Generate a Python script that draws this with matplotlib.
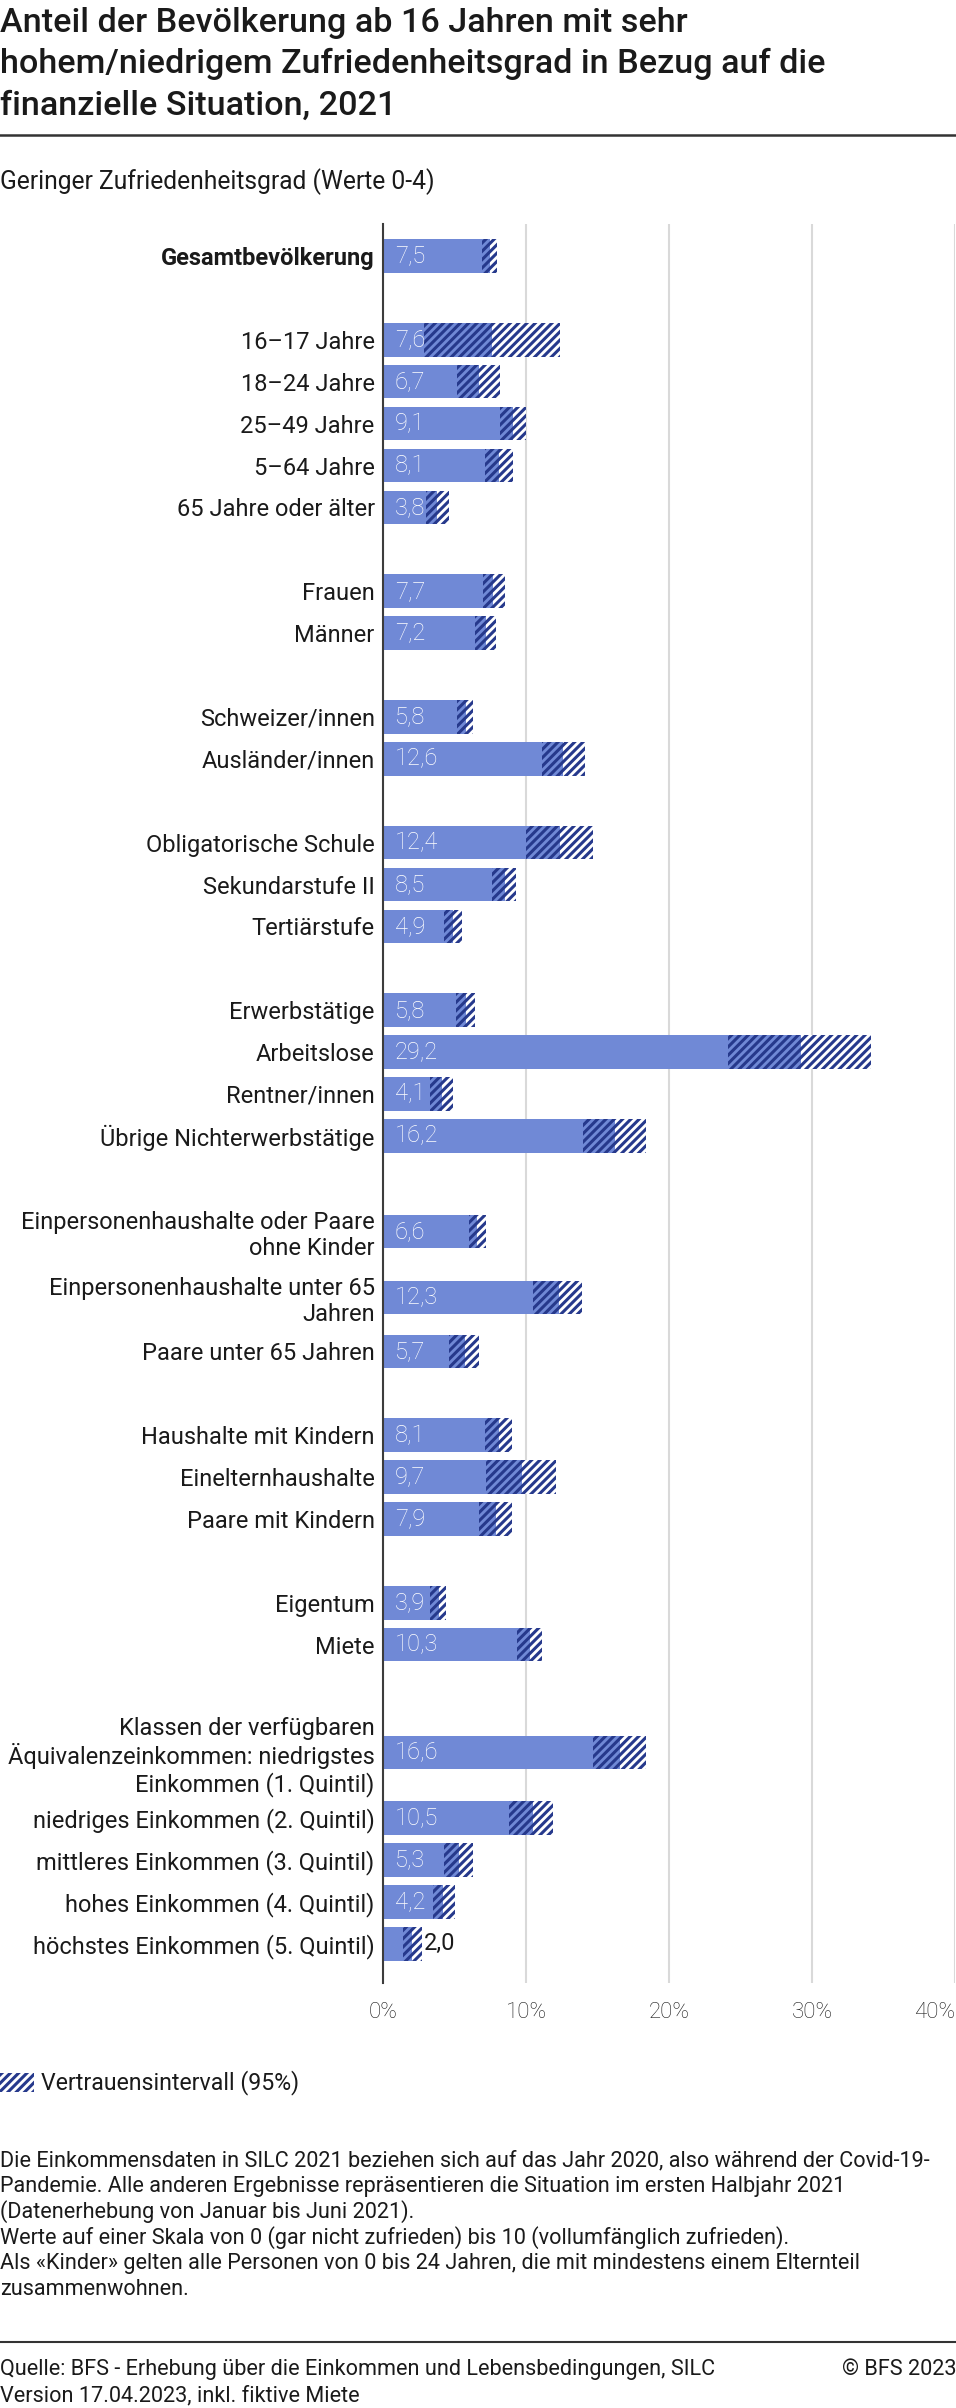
import numpy as np
import matplotlib
matplotlib.use('Agg')
import matplotlib.pyplot as plt
from matplotlib.lines import Line2D
from matplotlib.patches import Rectangle

plt.rcParams['font.family'] = ['Roboto', 'DejaVu Sans']
plt.rcParams['hatch.linewidth'] = 2.2

BLUE = '#7089d6'
NAVY = '#26398c'
TXT = '#1a1a1a'
HATCH = '////'
W, H = 956, 2408

# --- data -------------------------------------------------------------
categories = [
    'Gesamtbevölkerung',
    '16–17 Jahre', '18–24 Jahre', '25–49 Jahre', '5–64 Jahre', '65 Jahre oder älter',
    'Frauen', 'Männer',
    'Schweizer/innen', 'Ausländer/innen',
    'Obligatorische Schule', 'Sekundarstufe II', 'Tertiärstufe',
    'Erwerbstätige', 'Arbeitslose', 'Rentner/innen', 'Übrige Nichterwerbstätige',
    'Einpersonenhaushalte oder Paare\nohne Kinder', 'Einpersonenhaushalte unter 65\nJahren',
    'Paare unter 65 Jahren',
    'Haushalte mit Kindern', 'Einelternhaushalte', 'Paare mit Kindern',
    'Eigentum', 'Miete',
    'Klassen der verfügbaren\nÄquivalenzeinkommen: niedrigstes\nEinkommen (1. Quintil)',
    'niedriges Einkommen (2. Quintil)', 'mittleres Einkommen (3. Quintil)',
    'hohes Einkommen (4. Quintil)', 'höchstes Einkommen (5. Quintil)',
]
groups = [0, 1, 1, 1, 1, 1, 2, 2, 3, 3, 4, 4, 4, 5, 5, 5, 5,
          6, 6, 6, 7, 7, 7, 8, 8, 9, 9, 9, 9, 9]
values = [7.5, 7.6, 6.7, 9.1, 8.1, 3.8, 7.7, 7.2, 5.8, 12.6, 12.4, 8.5, 4.9,
          5.8, 29.2, 4.1, 16.2, 6.6, 12.3, 5.7, 8.1, 9.7, 7.9, 3.9, 10.3,
          16.6, 10.5, 5.3, 4.2, 2.0]
ci_low = [6.9, 2.9, 5.2, 8.2, 7.1, 3.0, 7.0, 6.4, 5.2, 11.1, 10.0, 7.6, 4.3,
          5.1, 24.1, 3.3, 14.0, 6.0, 10.5, 4.6, 7.1, 7.2, 6.7, 3.3, 9.4,
          14.7, 8.8, 4.3, 3.5, 1.4]
ci_high = [8.0, 12.4, 8.2, 10.0, 9.1, 4.6, 8.5, 7.9, 6.3, 14.1, 14.7, 9.3, 5.5,
           6.4, 34.1, 4.9, 18.4, 7.2, 13.9, 6.7, 9.0, 12.1, 9.0, 4.4, 11.1,
           18.4, 11.9, 6.3, 5.0, 2.7]
x_ticks = [0, 10, 20, 30, 40]
x_ticklabels = ['0%', '10%', '20%', '30%', '40%']

values = np.array(values)
ci_low = np.array(ci_low)
ci_high = np.array(ci_high)

# --- row positions (taller rows for wrapped labels, blank row between groups)
extra = 0.571
pos = []
cur = 0.0
prev = None
for lab, g in zip(categories, groups):
    h = 1 + extra * lab.count('\n')
    if prev is not None and g != prev:
        cur += 1
    pos.append(cur + h / 2)
    cur += h
    prev = g
pos = np.array(pos)

fig = plt.figure(figsize=(W / 100, H / 100), dpi=100)
ax_top, ax_bot = 224, 1983
ax = fig.add_axes([383 / W, 1 - ax_bot / H, 572 / W, (ax_bot - ax_top) / H])

row_px = 41.9
y0 = pos[0] - 32 / row_px
ax.set_ylim(y0 + (ax_bot - ax_top) / row_px, y0)
ax.set_xlim(0, 40)

bh = 0.8
ax.barh(pos, ci_low, height=bh, color=BLUE, linewidth=0, zorder=2)
ax.barh(pos, values - ci_low, left=ci_low, height=bh, facecolor=BLUE,
        edgecolor=NAVY, linewidth=0, hatch=HATCH, zorder=2)
ax.barh(pos, ci_high - values, left=values, height=bh, facecolor='white',
        edgecolor=NAVY, linewidth=0, hatch=HATCH, zorder=2)

for y, v, hi in zip(pos, values, ci_high):
    txt = f'{v:.1f}'.replace('.', ',')
    if v >= 3:
        ax.annotate(txt, xy=(0, y), xytext=(12 * 0.72, 0), textcoords='offset points',
                    color='white', fontsize=17, fontweight='light',
                    ha='left', va='center', zorder=5)
    else:
        ax.annotate(txt, xy=(hi, y), xytext=(1.5, 0), textcoords='offset points',
                    color=TXT, fontsize=17, ha='left', va='center', zorder=5)

ax.set_yticks(pos, categories)
for i, t in enumerate(ax.get_yticklabels()):
    t.set_fontsize(17)
    t.set_multialignment('right')
    t.set_linespacing(1.15)
    t.set_fontweight('bold' if i == 0 else 'normal')
    t.set_color(TXT)
ax.tick_params(axis='y', length=0, pad=6)

ax.set_xticks(x_ticks, x_ticklabels)
ax.tick_params(axis='x', length=0, pad=14, labelsize=16, labelcolor=TXT)
for t in ax.get_xticklabels():
    t.set_fontweight('light')
ax.get_xticklabels()[-1].set_horizontalalignment('right')

ax.grid(axis='x', color='#d9d9d9', linewidth=1.5)
ax.set_axisbelow(True)
for s in ['top', 'right', 'bottom']:
    ax.spines[s].set_visible(False)
ax.spines['left'].set_color('#3c3c3c')
ax.spines['left'].set_linewidth(1.5)
ax.spines['left'].set_zorder(4)


def fy(px):
    return 1 - px / H


# title
title_lines = ['Anteil der Bevölkerung ab 16 Jahren mit sehr',
               'hohem/niedrigem Zufriedenheitsgrad in Bezug auf die',
               'finanzielle Situation, 2021']
for k, line in enumerate(title_lines):
    fig.text(0, fy(32 + 41.5 * k), line, fontsize=24.6, fontweight='medium',
             color=TXT, ha='left', va='baseline')
fig.add_artist(Line2D([0, 1], [fy(135), fy(135)], color='#333333', linewidth=1.8))
fig.text(0, fy(189), 'Geringer Zufriedenheitsgrad (Werte 0-4)', fontsize=17.7,
         color=TXT, ha='left', va='baseline')

# legend
fig.add_artist(Rectangle((0, fy(2092)), 34 / W, 19 / H, facecolor='white',
                         edgecolor=NAVY, linewidth=0, hatch=HATCH,
                         transform=fig.transFigure))
fig.text(41 / W, fy(2083), 'Vertrauensintervall (95%)', fontsize=16.7,
         color=TXT, ha='left', va='center')

# notes
notes = [
    'Die Einkommensdaten in SILC 2021 beziehen sich auf das Jahr 2020, also während der Covid-19-',
    'Pandemie. Alle anderen Ergebnisse repräsentieren die Situation im ersten Halbjahr 2021',
    '(Datenerhebung von Januar bis Juni 2021).',
    'Werte auf einer Skala von 0 (gar nicht zufrieden) bis 10 (vollumfänglich zufrieden).',
    'Als «Kinder» gelten alle Personen von 0 bis 24 Jahren, die mit mindestens einem Elternteil',
    'zusammenwohnen.',
]
for k, line in enumerate(notes):
    fig.text(0, fy(2166 + 25.8 * k), line, fontsize=15.6,
             color=TXT, ha='left', va='baseline')

fig.add_artist(Line2D([0, 1], [fy(2342), fy(2342)], color='#333333', linewidth=1.5))
fig.text(0, fy(2375), 'Quelle: BFS - Erhebung über die Einkommen und Lebensbedingungen, SILC',
         fontsize=15.6, color=TXT, ha='left', va='baseline')
fig.text(0, fy(2401), 'Version 17.04.2023, inkl. fiktive Miete',
         fontsize=15.6, color=TXT, ha='left', va='baseline')
fig.text(1, fy(2375), '© BFS 2023', fontsize=15.6,
         color=TXT, ha='right', va='baseline')

fig.savefig('out.png', dpi=100)
